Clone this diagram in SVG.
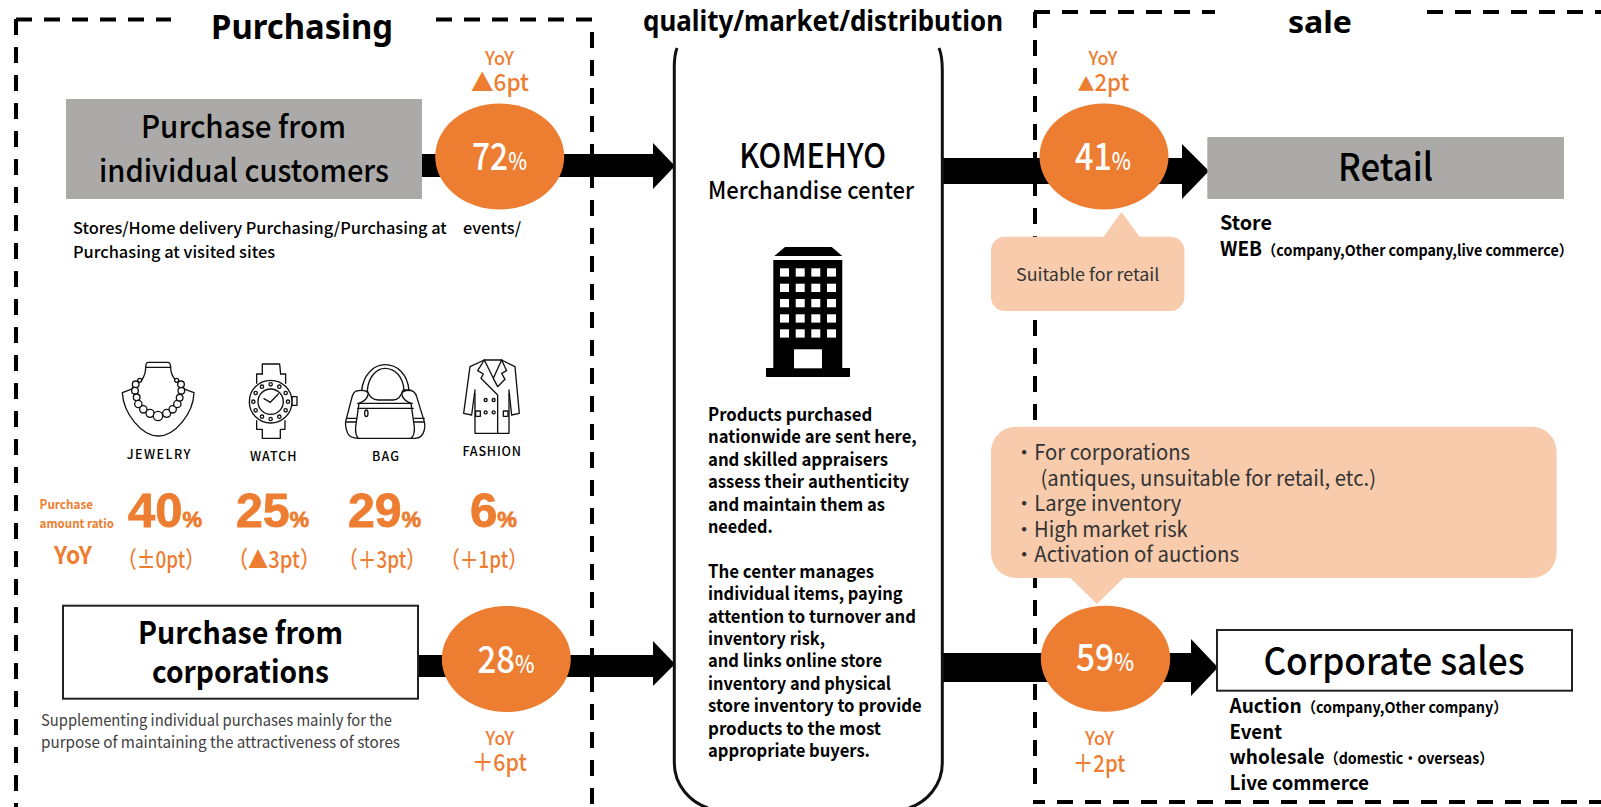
<svg xmlns="http://www.w3.org/2000/svg" width="1601" height="807" viewBox="0 0 1601 807">
<style>
text{font-family:"Noto Sans CJK JP","Noto Sans",sans-serif;fill:#000}
text.ns{font-family:"Noto Sans","Noto Sans CJK JP",sans-serif}
text.big{font-family:"Liberation Sans",Arial,sans-serif;font-weight:700;fill:#ED7D31;stroke:#ED7D31;stroke-width:.8}
text.org{fill:#ED7D31}
text.wht{fill:#fff}
text.gry{fill:#404040}
text.dk{fill:#333}
.dash{fill:none;stroke:#000;stroke-width:4;stroke-dasharray:16 12}
.o{fill:#ED7D31}
.oc{fill:#F7CBAC}
.m{font-weight:500}
.b{font-weight:700}
.ic{fill:#fff;stroke:#111;stroke-width:4;stroke-linejoin:round;stroke-linecap:round}
.icn{fill:none;stroke:#111;stroke-width:4;stroke-linejoin:round;stroke-linecap:round}
</style>
<g id="frames">
<path class="dash" d="M16 19.5H171"/><path class="dash" d="M16 19V807"/>
<path class="dash" d="M436 19.5H593"/><path class="dash" d="M592 32V807"/>
<path class="dash" d="M1034 12H1215"/><path class="dash" d="M1035 12V790"/>
<path class="dash" d="M1427 12H1601"/><path class="dash" d="M1033 802H1601" stroke-dashoffset="4"/>
</g>
<g id="connectors">
<path d="M422 154H653V143L675 166L653 189V177H422Z"/>
<path d="M418 655H653V641L675 664L653 686V677H418Z"/>
<path d="M941 158H1182V144L1209 171L1182 199V184H941Z"/>
<path d="M941 653H1191V639L1218 667.500L1191 696V682H941Z"/>
</g>
<g id="center-box">
<path fill="none" stroke="#111" stroke-width="3" d="M677 48Q674 56 674.300 70V763C674.300 785 690 802 708 808M939 48Q942.300 56 942.300 70V763C942.300 785 927 802 909 808"/>
<text class="m" x="739.300" y="168" font-size="34" textLength="146.700" lengthAdjust="spacingAndGlyphs">KOMEHYO</text>
<text class="m" x="708" y="199" font-size="24" textLength="206" lengthAdjust="spacingAndGlyphs">Merchandise center</text>
<path d="M774.300 256L785 247H831.700L842.300 256Z"/>
<path d="M773.300 260H842.300V368H850V377H766V368H773.300Z"/>
<g fill="#fff">
<rect x="780" y="268.300" width="9" height="8.300"/><rect x="795.700" y="268.300" width="9" height="8.300"/><rect x="811.300" y="268.300" width="9" height="8.300"/><rect x="827" y="268.300" width="9" height="8.300"/>
<rect x="780" y="283.700" width="9" height="8.300"/><rect x="795.700" y="283.700" width="9" height="8.300"/><rect x="811.300" y="283.700" width="9" height="8.300"/><rect x="827" y="283.700" width="9" height="8.300"/>
<rect x="780" y="299" width="9" height="8.300"/><rect x="795.700" y="299" width="9" height="8.300"/><rect x="811.300" y="299" width="9" height="8.300"/><rect x="827" y="299" width="9" height="8.300"/>
<rect x="780" y="314.300" width="9" height="8.300"/><rect x="795.700" y="314.300" width="9" height="8.300"/><rect x="811.300" y="314.300" width="9" height="8.300"/><rect x="827" y="314.300" width="9" height="8.300"/>
<rect x="780" y="329.300" width="9" height="8.300"/><rect x="795.700" y="329.300" width="9" height="8.300"/><rect x="811.300" y="329.300" width="9" height="8.300"/><rect x="827" y="329.300" width="9" height="8.300"/>
<rect x="794" y="349.300" width="28" height="19"/>
</g>
<g class="b" font-size="18">
<text x="708" y="421" textLength="164.300" lengthAdjust="spacingAndGlyphs">Products purchased</text>
<text x="708" y="443.400" textLength="208.700" lengthAdjust="spacingAndGlyphs">nationwide are sent here,</text>
<text x="708" y="465.800" textLength="180" lengthAdjust="spacingAndGlyphs">and skilled appraisers</text>
<text x="708" y="488.200" textLength="201" lengthAdjust="spacingAndGlyphs">assess their authenticity</text>
<text x="708" y="510.600" textLength="177" lengthAdjust="spacingAndGlyphs">and maintain them as</text>
<text x="708" y="533" textLength="64.700" lengthAdjust="spacingAndGlyphs">needed.</text>
<text x="708" y="577.800" textLength="166" lengthAdjust="spacingAndGlyphs">The center manages</text>
<text x="708" y="600.200" textLength="194.700" lengthAdjust="spacingAndGlyphs">individual items, paying</text>
<text x="708" y="622.600" textLength="208" lengthAdjust="spacingAndGlyphs">attention to turnover and</text>
<text x="708" y="645" textLength="117" lengthAdjust="spacingAndGlyphs">inventory risk,</text>
<text x="708" y="667.400" textLength="174" lengthAdjust="spacingAndGlyphs">and links online store</text>
<text x="708" y="689.800" textLength="183" lengthAdjust="spacingAndGlyphs">inventory and physical</text>
<text x="708" y="712.200" textLength="213.700" lengthAdjust="spacingAndGlyphs">store inventory to provide</text>
<text x="708" y="734.600" textLength="173" lengthAdjust="spacingAndGlyphs">products to the most</text>
<text x="708" y="757" textLength="162" lengthAdjust="spacingAndGlyphs">appropriate buyers.</text>
</g>
</g>
<g id="titles">
<text class="ns b" x="211" y="38.500" font-size="34" textLength="182" lengthAdjust="spacingAndGlyphs">Purchasing</text>
<text class="ns b" x="643" y="31" font-size="28" textLength="360" lengthAdjust="spacingAndGlyphs">quality/market/distribution</text>
<text class="ns b" x="1288" y="33" font-size="31" textLength="64" lengthAdjust="spacingAndGlyphs">sale</text>
</g>
<g id="purchase-individual">
<rect x="66" y="99" width="356" height="100" fill="#ABAAA8"/>
<text class="m" x="141" y="138" font-size="31" textLength="205" lengthAdjust="spacingAndGlyphs">Purchase from</text>
<text class="m" x="99" y="182" font-size="31" textLength="290" lengthAdjust="spacingAndGlyphs">individual customers</text>
<text class="m" x="73" y="234" font-size="16" textLength="448" lengthAdjust="spacingAndGlyphs">Stores/Home delivery Purchasing/Purchasing at　events/</text>
<text class="m" x="73" y="258" font-size="16" textLength="202" lengthAdjust="spacingAndGlyphs">Purchasing at visited sites</text>
</g>
<g id="ratio-72">
<ellipse class="o" cx="499.700" cy="156.500" rx="64.500" ry="53"/>
<text class="wht m" x="472" y="170" font-size="38" textLength="55" lengthAdjust="spacingAndGlyphs">72<tspan font-size="24">%</tspan></text>
<text class="org m" x="485" y="65" font-size="18" textLength="29" lengthAdjust="spacingAndGlyphs">YoY</text>
<text class="org m" x="471" y="91" font-size="24" textLength="58" lengthAdjust="spacingAndGlyphs">▲6pt</text>
</g>
<g id="icons" transform="translate(115 350) scale(.3333)">
<g id="icon-jewelry">
<path class="ic" d="M92 52Q92 37 100 37H158Q167 37 167 52ZM80 90L48 118L22 128C25 190 80 258 130 258C180 258 235 190 237 128L210 118L182 90"/>
<path class="icn" d="M92 52C92 68 88 80 80 90M167 52C167 70 172 80 182 90"/>
<g class="ic"><circle cx="74" cy="91" r="6"/><circle cx="185" cy="91" r="6"/><circle cx="62" cy="103" r="10"/><circle cx="60" cy="122" r="10"/><circle cx="65" cy="142" r="10"/><circle cx="70" cy="162" r="11"/><circle cx="85" cy="178" r="11"/><circle cx="105" cy="190" r="12"/><circle cx="129" cy="198" r="14"/><circle cx="155" cy="190" r="12"/><circle cx="173" cy="178" r="11"/><circle cx="187" cy="162" r="11"/><circle cx="194" cy="143" r="10"/><circle cx="199" cy="122" r="10"/><circle cx="198" cy="103" r="10"/></g>
</g>
<g id="icon-watch" class="ic">
<path d="M442 72V42H494L497 72"/><path class="icn" d="M425 100V72H442M512 100V72H497"/>
<path d="M442 240V265H496V240"/><path class="icn" d="M425 212V238H442M510 212V238H497"/>
<rect x="531" y="140" width="15" height="26"/>
<circle cx="467" cy="155" r="64"/><circle cx="467" cy="155" r="38"/>
<path class="icn" d="M447 146L466 157L490 132"/>
<circle cx="467" cy="103" r="5"/><circle cx="493" cy="110" r="5"/><circle cx="512" cy="129" r="5"/><circle cx="519" cy="155" r="5"/><circle cx="512" cy="181" r="5"/><circle cx="493" cy="200" r="5"/><circle cx="467" cy="207" r="5"/><circle cx="441" cy="200" r="5"/><circle cx="422" cy="181" r="5"/><circle cx="415" cy="155" r="5"/><circle cx="422" cy="129" r="5"/><circle cx="441" cy="110" r="5"/>
</g>
</g>
<g id="icons2" transform="translate(335 350) scale(.3333)">
<g id="icon-bag" class="icn">
<path d="M80 122C85 70 120 44 150 44C185 44 218 70 222 122"/>
<path d="M97 122C100 80 125 55 150 55C180 55 205 80 207 122"/>
<path d="M70 122Q55 122 50 145L32 215Q30 230 38 250Q45 265 70 265H240Q262 265 268 240Q272 225 265 205L245 140Q240 122 222 120H205"/>
<path d="M97 122Q105 150 130 150H175Q195 150 203 122"/>
<path d="M70 122Q92 118 100 130Q98 150 72 160M230 122Q208 118 200 130Q202 150 228 160"/>
<path d="M68 160H232M68 175H235M35 205H65M35 216H62M238 205H268M238 216H268"/>
<path d="M72 160L62 230Q60 255 70 265M228 160L238 230Q240 255 228 265"/>
<ellipse cx="94" cy="190" rx="5" ry="10"/>
</g>
<g id="icon-fashion" class="icn">
<path d="M448 30L405 50L386 190L410 195L420 120M500 30L540 50L553 190L530 195L522 120"/>
<path d="M420 130V250H522V130M448 30H500"/>
<path d="M448 30L428 62L445 72L438 85L488 135M500 30L515 62L500 70L510 88L488 110M448 30L475 85L500 30M475 85L488 110M488 135V250"/>
<circle cx="452" cy="150" r="4.500"/><circle cx="476" cy="150" r="4.500"/><circle cx="452" cy="187" r="4.500"/><circle cx="476" cy="187" r="4.500"/>
<rect x="422" y="183" width="14" height="16"/><rect x="505" y="183" width="14" height="16"/>
</g>
</g>
<g id="categories">
<text class="m" x="126.700" y="459" font-size="12.500" textLength="63.800" lengthAdjust="spacing">JEWELRY</text>
<text class="m" x="250" y="461" font-size="12.500" textLength="46.500" lengthAdjust="spacing">WATCH</text>
<text class="m" x="372" y="461" font-size="12.500" textLength="27" lengthAdjust="spacing">BAG</text>
<text class="m" x="462.500" y="456" font-size="12.500" textLength="58.500" lengthAdjust="spacing">FASHION</text>
<text class="org b" x="39.600" y="509" font-size="12.500" textLength="53.400" lengthAdjust="spacingAndGlyphs">Purchase</text>
<text class="org b" x="39.600" y="528" font-size="12.500" textLength="74.400" lengthAdjust="spacingAndGlyphs">amount ratio</text>
<text class="big" x="128" y="526.700" font-size="49" textLength="74" lengthAdjust="spacingAndGlyphs">40<tspan font-size="22">%</tspan></text>
<text class="big" x="236" y="526.700" font-size="49" textLength="73" lengthAdjust="spacingAndGlyphs">25<tspan font-size="22">%</tspan></text>
<text class="big" x="348" y="526.700" font-size="49" textLength="73" lengthAdjust="spacingAndGlyphs">29<tspan font-size="22">%</tspan></text>
<text class="big" x="470" y="526.700" font-size="49" textLength="47" lengthAdjust="spacingAndGlyphs">6<tspan font-size="22">%</tspan></text>
<text class="org b" x="54" y="564" font-size="24" textLength="38" lengthAdjust="spacingAndGlyphs">YoY</text>
<text class="org m" x="118" y="568" font-size="23" textLength="86" lengthAdjust="spacingAndGlyphs">（±0pt）</text>
<text class="org m" x="228" y="568" font-size="23" textLength="92" lengthAdjust="spacingAndGlyphs">（▲3pt）</text>
<text class="org m" x="339" y="568" font-size="23" textLength="86" lengthAdjust="spacingAndGlyphs">（＋3pt）</text>
<text class="org m" x="441" y="568" font-size="23" textLength="86" lengthAdjust="spacingAndGlyphs">（＋1pt）</text>
</g>
<g id="purchase-corporate">
<rect x="63" y="605.700" width="355" height="93" fill="#fff" stroke="#222" stroke-width="2"/>
<text class="b" x="138" y="643.500" font-size="31" textLength="205" lengthAdjust="spacingAndGlyphs">Purchase from</text>
<text class="b" x="152" y="682.500" font-size="31" textLength="177" lengthAdjust="spacingAndGlyphs">corporations</text>
<text class="gry" x="41" y="726" font-size="16" textLength="351" lengthAdjust="spacingAndGlyphs">Supplementing individual purchases mainly for the</text>
<text class="gry" x="41" y="748" font-size="16" textLength="359" lengthAdjust="spacingAndGlyphs">purpose of maintaining the attractiveness of stores</text>
</g>
<g id="ratio-28">
<ellipse class="o" cx="506.300" cy="659" rx="64.500" ry="53"/>
<text class="wht m" x="477.400" y="672.700" font-size="38" textLength="57" lengthAdjust="spacingAndGlyphs">28<tspan font-size="24">%</tspan></text>
<text class="org m" x="485.600" y="745" font-size="18" textLength="28.400" lengthAdjust="spacingAndGlyphs">YoY</text>
<text class="org m" x="472" y="771" font-size="24" textLength="55" lengthAdjust="spacingAndGlyphs">＋6pt</text>
</g>
<g id="retail">
<rect x="1207.300" y="137" width="356.700" height="62" fill="#ABAAA8"/>
<text class="m" x="1338" y="181" font-size="38" textLength="95" lengthAdjust="spacingAndGlyphs">Retail</text>
<text class="b" x="1220" y="230" font-size="20" textLength="52" lengthAdjust="spacingAndGlyphs">Store</text>
<text class="b" x="1220" y="256" font-size="20" textLength="353" lengthAdjust="spacingAndGlyphs">WEB<tspan font-size="15">（company,Other company,live commerce）</tspan></text>
</g>
<g id="ratio-41">
<ellipse class="o" cx="1104" cy="156.500" rx="64.500" ry="53"/>
<text class="wht m" x="1075" y="170" font-size="38" textLength="56" lengthAdjust="spacingAndGlyphs">41<tspan font-size="24">%</tspan></text>
<text class="org m" x="1088.500" y="65" font-size="18" textLength="29" lengthAdjust="spacingAndGlyphs">YoY</text>
<text class="org m" x="1077.800" y="91" font-size="24" textLength="51.500" lengthAdjust="spacingAndGlyphs"><tspan font-size="18">▲</tspan>2pt</text>
</g>
<g id="callout-retail">
<path class="oc" d="M1005 236.700H1103.600L1121.400 212L1139.600 236.700H1170.400A14 14 0 0 1 1184.400 250.700V297A14 14 0 0 1 1170.400 311H1005A14 14 0 0 1 991 297V250.700A14 14 0 0 1 1005 236.700Z"/>
<text class="dk" x="1016" y="281" font-size="17" textLength="143.400" lengthAdjust="spacingAndGlyphs">Suitable for retail</text>
</g>
<g id="callout-corporate">
<path class="oc" d="M1016 426.700H1531.600A25 25 0 0 1 1556.600 451.700V553A25 25 0 0 1 1531.600 578H1123.400L1097 604L1070.300 578H1016A25 25 0 0 1 991 553V451.700A25 25 0 0 1 1016 426.700Z"/>
<g font-size="21">
<text class="dk" x="1014" y="460" textLength="176" lengthAdjust="spacingAndGlyphs">・For corporations</text>
<text class="dk" x="1040.400" y="486" textLength="335.600" lengthAdjust="spacingAndGlyphs">(antiques, unsuitable for retail, etc.)</text>
<text class="dk" x="1014" y="511" textLength="167.400" lengthAdjust="spacingAndGlyphs">・Large inventory</text>
<text class="dk" x="1014" y="537" textLength="173.700" lengthAdjust="spacingAndGlyphs">・High market risk</text>
<text class="dk" x="1014" y="562" textLength="225" lengthAdjust="spacingAndGlyphs">・Activation of auctions</text>
</g>
</g>
<g id="ratio-59">
<ellipse class="o" cx="1105.500" cy="658.700" rx="64.700" ry="53"/>
<text class="wht m" x="1076" y="670.700" font-size="38" textLength="58" lengthAdjust="spacingAndGlyphs">59<tspan font-size="24">%</tspan></text>
<text class="org m" x="1085" y="745" font-size="18" textLength="29" lengthAdjust="spacingAndGlyphs">YoY</text>
<text class="org m" x="1073" y="771.500" font-size="24" textLength="52.300" lengthAdjust="spacingAndGlyphs">＋2pt</text>
</g>
<g id="corporate-sales">
<rect x="1217" y="630" width="355" height="60.700" fill="#fff" stroke="#222" stroke-width="2"/>
<text class="m" x="1263.400" y="675" font-size="38" textLength="261.200" lengthAdjust="spacingAndGlyphs">Corporate sales</text>
<text class="b" x="1229.500" y="713" font-size="20" textLength="278" lengthAdjust="spacingAndGlyphs">Auction<tspan font-size="15">（company,Other company）</tspan></text>
<text class="b" x="1229.500" y="739" font-size="20" textLength="52.500" lengthAdjust="spacingAndGlyphs">Event</text>
<text class="b" x="1229.500" y="764" font-size="20" textLength="264" lengthAdjust="spacingAndGlyphs">wholesale<tspan font-size="15">（domestic・overseas）</tspan></text>
<text class="b" x="1229.500" y="790" font-size="20" textLength="139.500" lengthAdjust="spacingAndGlyphs">Live commerce</text>
</g>
</svg>
